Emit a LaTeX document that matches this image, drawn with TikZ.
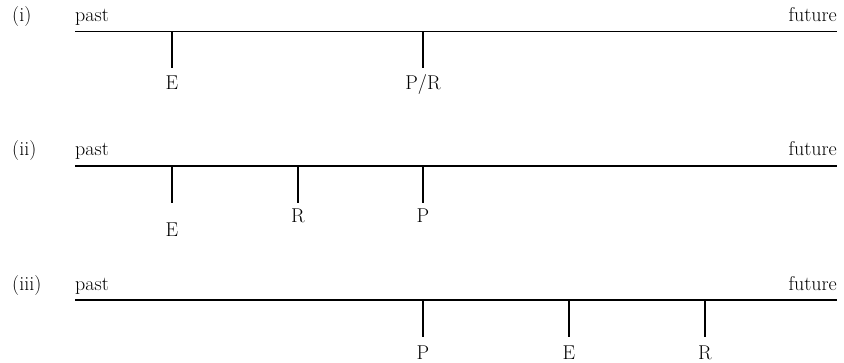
\documentclass[tikz,border=0pt]{standalone}
\begin{document}
\begin{tikzpicture}[x=1pt,y=-1pt,
  txt/.style={inner sep=0pt,font=\fontsize{20}{22}\selectfont},
  axis/.style={line width=1.1pt},
  tick/.style={line width=1.1pt}]
\useasboundingbox (0,0) rectangle (844,363);

% (i) E before P/R
\node[txt,anchor=base west] (n1) at (12,22) {(i)};
\node[txt,anchor=base west] (p1) at (75,22) {past};
\node[txt,anchor=base east] (f1) at (837,22) {future};
\coordinate (a1s) at (75,31.5);
\coordinate (a1e) at (837,31.5);
\draw[axis] (a1s) -- (a1e);
\coordinate (i1a) at (172,31.5); \coordinate (i1b) at (172,68);
\coordinate (i2a) at (423,31.5); \coordinate (i2b) at (423,68);
\draw[tick] (i1a) -- (i1b);
\draw[tick] (i2a) -- (i2b);
\node[txt,anchor=base] (iE) at (172,90) {E};
\node[txt,anchor=base] (iPR) at (423,90) {P/R};

% (ii) E before R before P
\node[txt,anchor=base west] (n2) at (12,156) {(ii)};
\node[txt,anchor=base west] (p2) at (75,156) {past};
\node[txt,anchor=base east] (f2) at (837,156) {future};
\coordinate (a2s) at (75,166);
\coordinate (a2e) at (837,166);
\draw[axis] (a2s) -- (a2e);
\coordinate (j1a) at (172,166); \coordinate (j1b) at (172,203);
\coordinate (j2a) at (298,166); \coordinate (j2b) at (298,203);
\coordinate (j3a) at (423,166); \coordinate (j3b) at (423,203);
\draw[tick] (j1a) -- (j1b);
\draw[tick] (j2a) -- (j2b);
\draw[tick] (j3a) -- (j3b);
\node[txt,anchor=base] (iiE) at (172,237) {E};
\node[txt,anchor=base] (iiR) at (298,223) {R};
\node[txt,anchor=base] (iiP) at (423,223) {P};

% (iii) P before E before R
\node[txt,anchor=base west] (n3) at (12,290.5) {(iii)};
\node[txt,anchor=base west] (p3) at (75,290.5) {past};
\node[txt,anchor=base east] (f3) at (837,290.5) {future};
\coordinate (a3s) at (75,300);
\coordinate (a3e) at (837,300);
\draw[axis] (a3s) -- (a3e);
\coordinate (k1a) at (423,300); \coordinate (k1b) at (423,337);
\coordinate (k2a) at (569,300); \coordinate (k2b) at (569,337);
\coordinate (k3a) at (705,300); \coordinate (k3b) at (705,337);
\draw[tick] (k1a) -- (k1b);
\draw[tick] (k2a) -- (k2b);
\draw[tick] (k3a) -- (k3b);
\node[txt,anchor=base] (iiiP) at (423,360) {P};
\node[txt,anchor=base] (iiiE) at (569,360) {E};
\node[txt,anchor=base] (iiiR) at (705,360) {R};
\end{tikzpicture}
\end{document}
